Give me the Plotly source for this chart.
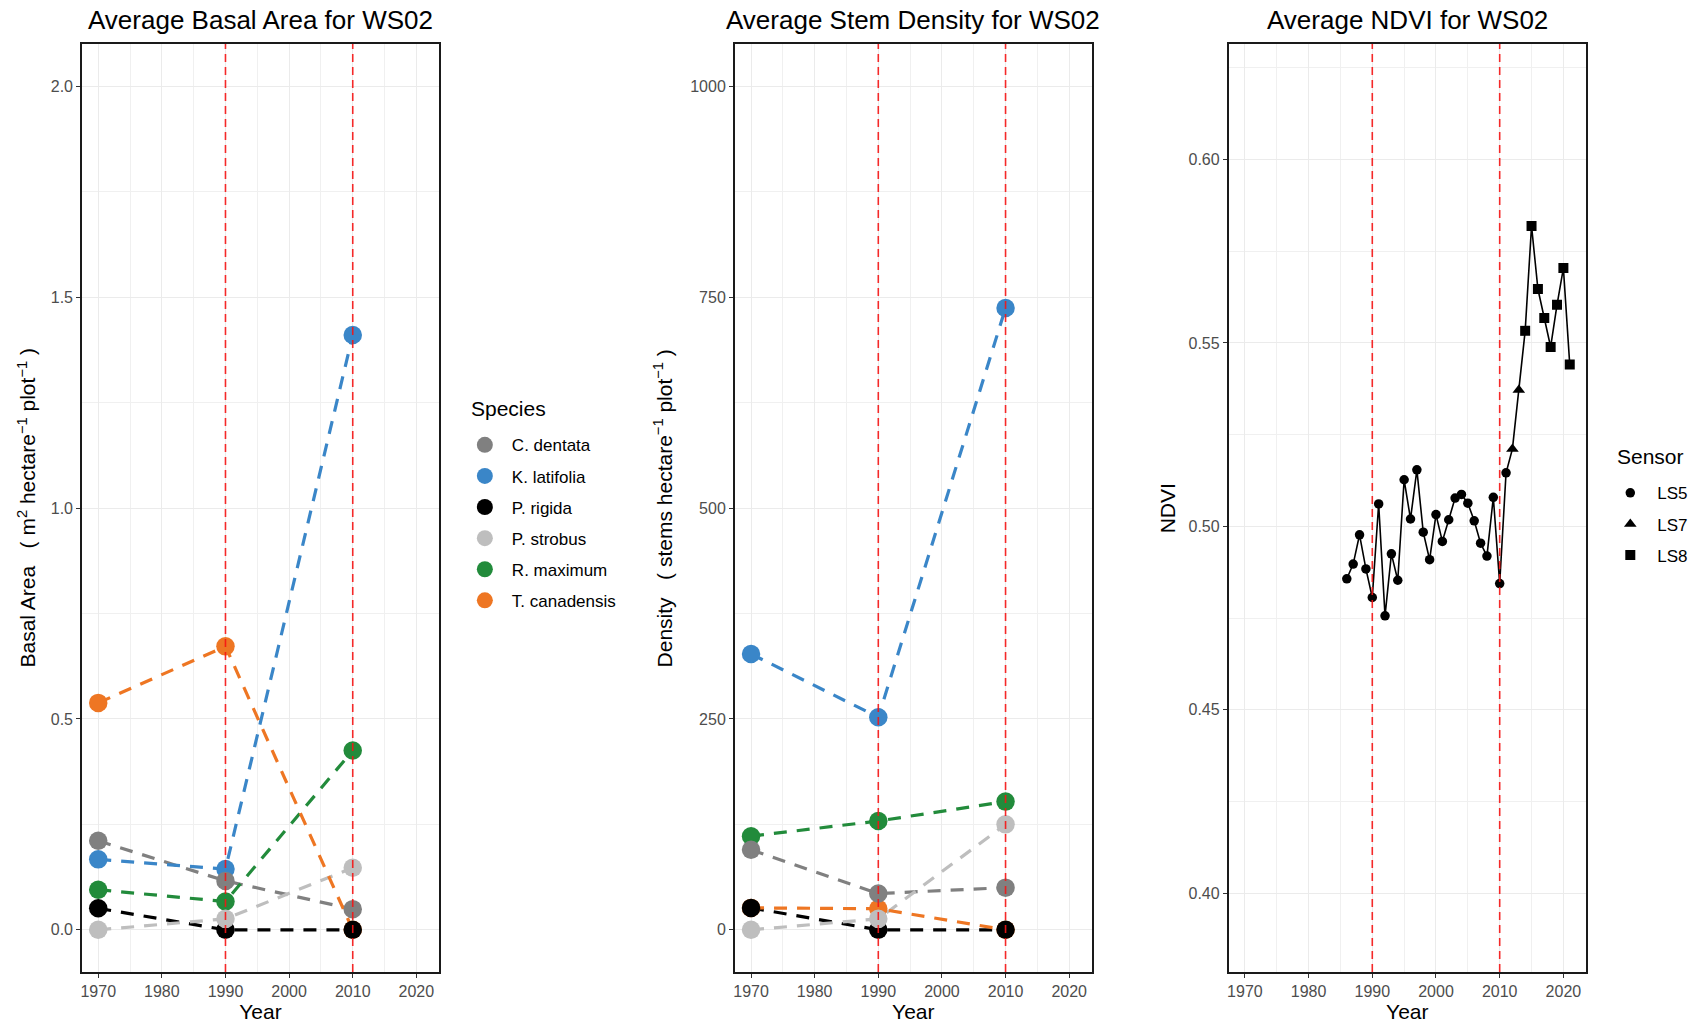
import plotly.graph_objects as go

# ---------------- data ----------------
species = ["C. dentata", "K. latifolia", "P. rigida", "P. strobus", "R. maximum", "T. canadensis"]
species_colors = ["#808080", "#3A86C8", "#000000", "#BEBEBE", "#228B3B", "#EE7623"]
survey_years = [1970, 1990, 2010]

basal_area = {
    "C. dentata":    [0.211, 0.116, 0.049],
    "K. latifolia":  [0.167, 0.144, 1.410],
    "P. rigida":     [0.051, 0.000, 0.000],
    "P. strobus":    [0.000, 0.026, 0.147],
    "R. maximum":    [0.095, 0.067, 0.425],
    "T. canadensis": [0.538, 0.672, 0.000],
}
stem_density = {
    "C. dentata":    [95, 43, 50],
    "K. latifolia":  [327, 252, 737],
    "P. rigida":     [26, 0, 0],
    "P. strobus":    [0, 13, 125],
    "R. maximum":    [111, 129, 152],
    "T. canadensis": [26, 25, 0],
}

ndvi_years = list(range(1986, 2022))
ndvi_values = [0.4857, 0.4897, 0.4977, 0.4884, 0.4806, 0.5061, 0.4756, 0.4925, 0.4853, 0.5127,
               0.5020, 0.5154, 0.4984, 0.4909, 0.5032, 0.4959, 0.5018, 0.5077, 0.5087, 0.5063,
               0.5015, 0.4954, 0.4919, 0.5079, 0.4844, 0.5146,
               0.5211, 0.5372,
               0.5533, 0.5819, 0.5647, 0.5568, 0.5489, 0.5604, 0.5704, 0.5441]
ndvi_sensor = ["LS5"] * 26 + ["LS7"] * 2 + ["LS8"] * 8
sensors = ["LS5", "LS7", "LS8"]
sensor_symbols = {"LS5": "circle", "LS7": "triangle-up", "LS8": "square"}
sensor_sizes = {"LS5": 9.5, "LS7": 11, "LS8": 10}

disturbance_years = [1990, 2010]
panel_titles = ["Average Basal Area for WS02", "Average Stem Density for WS02", "Average NDVI for WS02"]
y_titles = ["Basal Area   ( m<sup>2</sup> hectare<sup>−1</sup> plot<sup>−1</sup> )",
            "Density   ( stems hectare<sup>−1</sup> plot<sup>−1</sup> )",
            "NDVI"]

# ---------------- figure ----------------
FONT = "Liberation Sans, Arial, Helvetica, sans-serif"
fig = go.Figure()

# draw order for markers (so overlaps look like the reference)
marker_order = ["T. canadensis", "K. latifolia", "R. maximum", "P. rigida", "P. strobus", "C. dentata"]
color_of = dict(zip(species, species_colors))

for panel, (data, xa, ya) in enumerate([(basal_area, "x", "y"), (stem_density, "x2", "y2")]):
    for sp in species:
        fig.add_trace(go.Scatter(
            x=survey_years, y=data[sp], mode="lines", xaxis=xa, yaxis=ya,
            line=dict(color=color_of[sp], width=3.2, dash="13px,10px"),
            showlegend=False, hoverinfo="skip"))
    for sp in marker_order:
        fig.add_trace(go.Scatter(
            x=survey_years, y=data[sp], mode="markers", xaxis=xa, yaxis=ya,
            marker=dict(color=color_of[sp], size=18.5, line=dict(width=0)),
            name=sp, legendgroup=sp, legendrank=species.index(sp) + 1,
            showlegend=(panel == 0)))

# NDVI
fig.add_trace(go.Scatter(x=ndvi_years, y=ndvi_values, mode="lines", xaxis="x3", yaxis="y3",
                         line=dict(color="black", width=1.6), showlegend=False, hoverinfo="skip"))
for s in sensors:
    xs = [yr for yr, ss in zip(ndvi_years, ndvi_sensor) if ss == s]
    vs = [v for v, ss in zip(ndvi_values, ndvi_sensor) if ss == s]
    fig.add_trace(go.Scatter(x=xs, y=vs, mode="markers", xaxis="x3", yaxis="y3",
                             marker=dict(color="black", symbol=sensor_symbols[s], size=sensor_sizes[s]),
                             name=s, legend="legend2", legendgroup=s))

# ---------------- layout (page pixel coordinates; body margin removed) ----------------
W, H = 1703, 1026
ml = 81.5
mt = 43.6
mr = W - 1585.7
mb = H - 971.9
pw = W - ml - mr
ph = H - mt - mb
def px(x):
    return (x - ml) / pw
def py(y):
    return 1 - (y - mt) / ph
domains = [[px(81.5), px(438.5)], [px(734.4), px(1091.4)], [px(1228.3), px(1585.7)]]

grid_c = "#EBEBEB"
TICKFONT = dict(size=16, color="#4D4D4D", family=FONT)
TITLEFONT = dict(size=21, color="black", family=FONT)

def xaxis(d, anchor):
    return dict(domain=d, anchor=anchor, range=[1967.45, 2023.55], tick0=1970, dtick=10,
                showgrid=True, gridcolor=grid_c, gridwidth=1.1,
                minor=dict(dtick=5, tick0=1965, showgrid=True, gridcolor="#F0F0F0", gridwidth=0.8),
                showline=True, linecolor="#1A1A1A", linewidth=1.6, mirror=True,
                ticks="outside", ticklen=4, tickwidth=1.1, tickcolor="#333333",
                tickfont=TICKFONT, automargin=False,
                title=dict(text="Year", font=TITLEFONT, standoff=4),
                zeroline=False)

def yaxis(anchor, rng, dtick, minor, fmt):
    return dict(anchor=anchor, domain=[0, 1], range=rng, tick0=0, dtick=dtick, tickformat=fmt,
                showgrid=True, gridcolor=grid_c, gridwidth=1.1,
                minor=dict(dtick=minor, tick0=0, showgrid=True, gridcolor="#F0F0F0", gridwidth=0.8),
                showline=True, linecolor="#1A1A1A", linewidth=1.6, mirror=True,
                ticks="outside", ticklen=4, tickwidth=1.1, tickcolor="#333333",
                tickfont=TICKFONT, automargin=False, zeroline=False)

LEGFONT = dict(size=17, family=FONT, color="black")
layout = dict(
    width=W, height=H, autosize=False,
    margin=dict(l=ml, r=mr, t=mt, b=mb, pad=0, autoexpand=False),
    paper_bgcolor="white", plot_bgcolor="white",
    font=dict(family=FONT, color="black"),
    xaxis=xaxis(domains[0], "y"),
    xaxis2=xaxis(domains[1], "y2"),
    xaxis3=xaxis(domains[2], "y3"),
    yaxis=yaxis("x", [-0.1, 2.1], 0.5, 0.25, ".1f"),
    yaxis2=yaxis("x2", [-50, 1050], 250, 125, "d"),
    yaxis3=yaxis("x3", [0.3785, 0.6315], 0.05, 0.025, ".2f"),
    legend=dict(x=px(457.4), y=py(427), xanchor="left", yanchor="top",
                font=LEGFONT, itemwidth=44, tracegroupgap=6, bgcolor="rgba(0,0,0,0)"),
    legend2=dict(x=px(1603), y=py(475), xanchor="left", yanchor="top",
                 font=LEGFONT, itemwidth=44, tracegroupgap=6, bgcolor="rgba(0,0,0,0)"),
    showlegend=True,
)
fig.update_layout(**layout)

# y-axis titles (rotated annotations)
for txt, xc in zip(y_titles, [26, 663, 1167]):
    fig.add_annotation(text=txt, x=px(xc), y=py((mt + (H - mb)) / 2), xref="paper", yref="paper",
                       xanchor="center", yanchor="middle", textangle=-90, showarrow=False,
                       font=TITLEFONT)

# legend titles
for txt, x0, yc in [("Species", 469, 408), ("Sensor", 1615, 456)]:
    fig.add_annotation(text=txt, x=px(x0), y=py(yc), xref="paper", yref="paper",
                       xanchor="left", yanchor="middle", showarrow=False,
                       font=dict(size=21, family=FONT, color="black"))

# panel titles
for d, t in zip(domains, panel_titles):
    fig.add_annotation(text=t, x=(d[0] + d[1]) / 2, xref="paper", y=py(19.5),
                       yref="paper", xanchor="center", yanchor="middle", showarrow=False,
                       font=dict(size=26, family=FONT, color="black"))

# disturbance lines
for i, xa in enumerate(["x", "x2", "x3"]):
    ydom = "y domain" if i == 0 else f"y{i+1} domain"
    for yr in disturbance_years:
        fig.add_shape(type="line", xref=xa, yref=ydom, x0=yr, x1=yr, y0=0, y1=1,
                      line=dict(color="rgba(245,20,20,0.9)", width=1.6, dash="8px,5px"), layer="above")

fig.write_html("out.html", config={"displayModeBar": False},
               post_script="document.body.style.margin='0px';")
